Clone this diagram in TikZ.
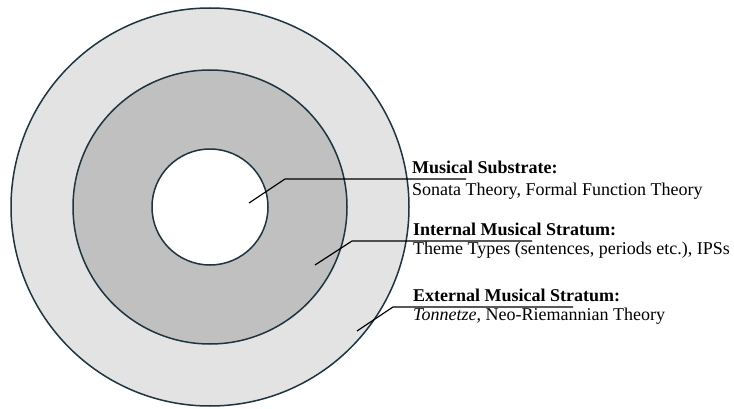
\documentclass[tikz,border=0pt]{standalone}
\usepackage{fontspec}
\setmainfont{Liberation Serif}
\definecolor{ringline}{HTML}{1E3440}
\definecolor{outerfill}{HTML}{E3E3E3}
\definecolor{midfill}{HTML}{C0C0C0}
\begin{document}
\begin{tikzpicture}[x=1pt,y=1pt,
  ring/.style={draw=ringline,line width=1.5pt},
  leader/.style={draw=black,line width=1.2pt},
  title/.style={anchor=base west,inner sep=0pt,font=\fontsize{18}{20}\selectfont\bfseries},
  desc/.style={anchor=base west,inner sep=0pt,font=\fontsize{18}{20}\selectfont}]
\useasboundingbox (0,0) rectangle (734,408);
\fill[white] (0,0) rectangle (734,408);
\coordinate (c) at (210,201);
\draw[ring,fill=outerfill] (c) circle (199);
\draw[ring,fill=midfill] (c) circle (137);
\draw[ring,fill=white] (c) circle (58);
% texts
\node[title] (t1) at (412,235) {Musical Substrate:};
\node[desc] (d1) at (412,213) {Sonata Theory, Formal Function Theory};
\node[title] (t2) at (413,173) {Internal Musical Stratum:};
\node[desc] (d2) at (413,154) {Theme Types (sentences, periods etc.), IPSs};
\node[title] (t3) at (413,107) {External Musical Stratum:};
\node[desc] (d3) at (413,88) {\textit{Tonnetze}, Neo-Riemannian Theory};
% leaders
\coordinate (s1) at (249,205); \coordinate (k1) at (285,229); \coordinate (e1) at (466,229);
\coordinate (s2) at (315,143); \coordinate (k2) at (352,167); \coordinate (e2) at (532,167);
\coordinate (s3) at (357,77);  \coordinate (k3) at (393,101); \coordinate (e3) at (573,101);
\draw[leader] (s1) -- (k1) -- (e1);
\draw[leader] (s2) -- (k2) -- (e2);
\draw[leader] (s3) -- (k3) -- (e3);
\end{tikzpicture}
\end{document}
